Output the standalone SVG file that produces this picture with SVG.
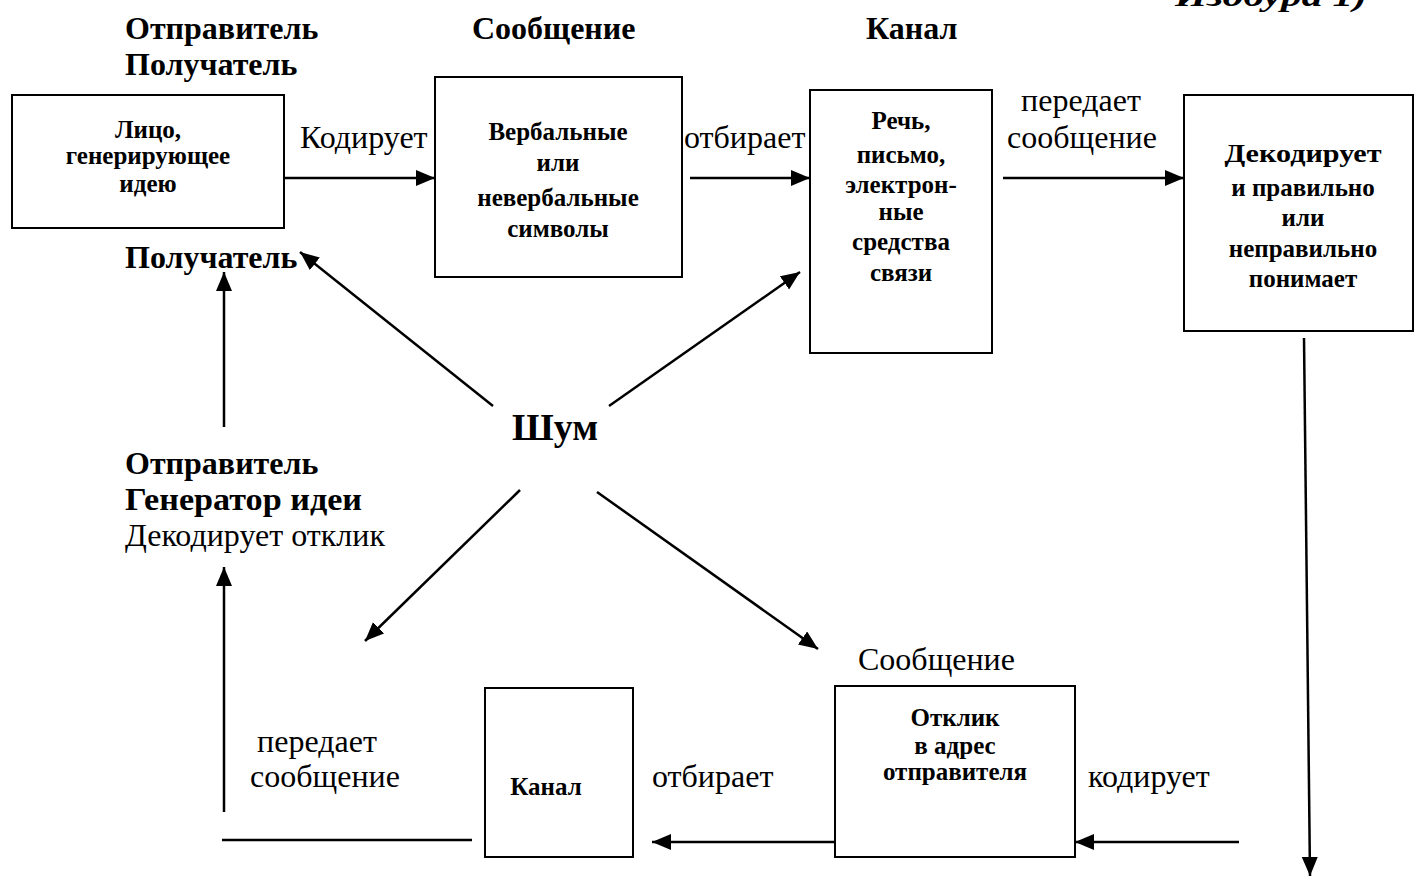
<svg xmlns="http://www.w3.org/2000/svg" width="1416" height="878" viewBox="0 0 1416 878">
  <style>
    .box { fill: #fff; stroke: #000; stroke-width: 2; }
    .t { font-family: "Liberation Serif", "Times New Roman", serif; fill: #000; }
    .b { font-weight: bold; }
    .c { text-anchor: middle; }
    .lbl { font-size: 32px; }
    .head { font-size: 32px; font-weight: bold; }
    .in { font-size: 25px; font-weight: bold; text-anchor: middle; }
    .ln { fill: none; stroke: #000; stroke-width: 2.5; }
    .arr { fill: none; stroke: #000; stroke-width: 2.5; marker-end: url(#head); }
  </style>
  <defs>
    <marker id="head" markerUnits="userSpaceOnUse" markerWidth="22" markerHeight="18" refX="19" refY="8" orient="auto">
      <path d="M0,0 L19,8 L0,16 z" fill="#000"/>
    </marker>
  </defs>
  <rect width="1416" height="878" fill="#fff"/>

  <!-- caption at the top edge -->
  <text class="t b" x="1175" y="6" font-size="30" font-style="italic" textLength="192" lengthAdjust="spacingAndGlyphs">Изобура 1)</text>

  <!-- column headings -->
  <g id="headings">
    <text class="t head" x="125" y="39">Отправитель</text>
    <text class="t head" x="125" y="75">Получатель</text>
    <text class="t head" x="472" y="39">Сообщение</text>
    <text class="t head" x="866" y="39">Канал</text>
  </g>

  <!-- forward chain -->
  <g id="sender">
    <rect class="box" x="12" y="95" width="272" height="133"/>
    <text class="t in" x="148" y="138" font-size="26">Лицо,</text>
    <text class="t in" x="148" y="164" font-size="26">генерирующее</text>
    <text class="t in" x="148" y="192" font-size="26">идею</text>
  </g>
  <g id="message">
    <rect class="box" x="435" y="77" width="247" height="200"/>
    <text class="t in" x="558" y="140">Вербальные</text>
    <text class="t in" x="558" y="171">или</text>
    <text class="t in" x="558" y="206">невербальные</text>
    <text class="t in" x="558" y="237">символы</text>
  </g>
  <g id="channel">
    <rect class="box" x="810" y="90" width="182" height="263"/>
    <text class="t in" x="901" y="129">Речь,</text>
    <text class="t in" x="901" y="163">письмо,</text>
    <text class="t in" x="901" y="193">электрон-</text>
    <text class="t in" x="901" y="220">ные</text>
    <text class="t in" x="901" y="250">средства</text>
    <text class="t in" x="901" y="281">связи</text>
  </g>
  <g id="receiver">
    <rect class="box" x="1184" y="95" width="229" height="236"/>
    <text class="t in" x="1303" y="162" font-size="27" textLength="157" lengthAdjust="spacingAndGlyphs">Декодирует</text>
    <text class="t in" x="1303" y="196" font-size="27">и правильно</text>
    <text class="t in" x="1303" y="226" font-size="27">или</text>
    <text class="t in" x="1303" y="257" font-size="27">неправильно</text>
    <text class="t in" x="1303" y="287" font-size="27">понимает</text>
  </g>

  <!-- feedback chain -->
  <g id="feedback-channel">
    <rect class="box" x="485" y="688" width="148" height="169"/>
    <text class="t in" x="546" y="795" font-size="24">Канал</text>
  </g>
  <g id="response">
    <rect class="box" x="835" y="686" width="240" height="171"/>
    <text class="t in" x="955" y="726" font-size="21">Отклик</text>
    <text class="t in" x="955" y="754" font-size="21">в адрес</text>
    <text class="t in" x="955" y="780" font-size="21">отправителя</text>
  </g>

  <g id="noise">
    <text class="t b c" x="555" y="440" font-size="38">Шум</text>
  </g>

  <g id="receiver-label">
    <text class="t head" x="125" y="268">Получатель</text>
  </g>
  <g id="sender-label">
    <text class="t head" x="125" y="474">Отправитель</text>
    <text class="t head" x="125" y="510" textLength="237" lengthAdjust="spacingAndGlyphs">Генератор идеи</text>
    <text class="t lbl" x="125" y="546">Декодирует отклик</text>
  </g>

  <!-- connector labels -->
  <g id="labels">
    <text class="t lbl" x="300" y="148">Кодирует</text>
    <text class="t lbl" x="684" y="148">отбирает</text>
    <text class="t lbl c" x="1081" y="111">передает</text>
    <text class="t lbl c" x="1082" y="148">сообщение</text>
    <text class="t lbl" x="858" y="670">Сообщение</text>
    <text class="t lbl c" x="317" y="752">передает</text>
    <text class="t lbl c" x="325" y="787">сообщение</text>
    <text class="t lbl" x="652" y="787">отбирает</text>
    <text class="t lbl" x="1088" y="787">кодирует</text>
  </g>

  <!-- connectors -->
  <g id="connectors">
    <line class="arr" x1="284" y1="178" x2="435" y2="178"/>
    <line class="arr" x1="690" y1="178" x2="810" y2="178"/>
    <line class="arr" x1="1003" y1="178" x2="1184" y2="178"/>
    <line class="arr" x1="1304" y1="338" x2="1310" y2="876"/>
    <line class="arr" x1="1239" y1="842" x2="1075" y2="842"/>
    <line class="arr" x1="835" y1="842" x2="652" y2="842"/>
    <line class="ln" x1="222" y1="840" x2="472" y2="840"/>
    <line class="arr" x1="224" y1="812" x2="224" y2="567"/>
    <line class="arr" x1="224" y1="427" x2="224" y2="272"/>
    <line class="arr" x1="493" y1="406" x2="300" y2="252"/>
    <line class="arr" x1="609" y1="406" x2="800" y2="272"/>
    <line class="arr" x1="520" y1="490" x2="365" y2="641"/>
    <line class="arr" x1="597" y1="492" x2="818" y2="649"/>
  </g>
</svg>
